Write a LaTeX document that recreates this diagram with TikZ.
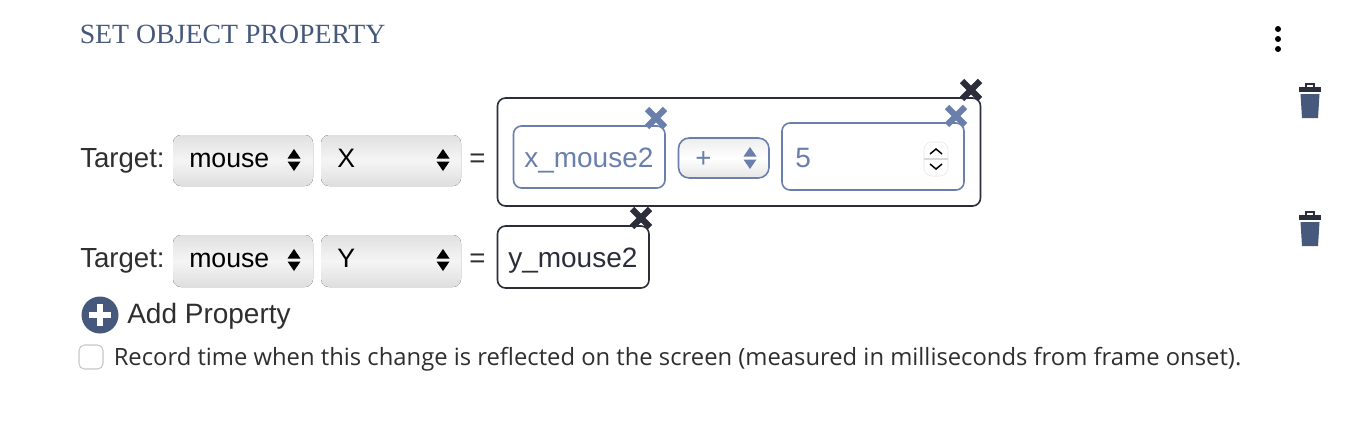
\documentclass[tikz,border=0pt]{standalone}
\usepackage{fontspec}
\setmainfont{Liberation Sans}
\newfontfamily\headfont{Liberation Serif}
\newfontfamily\notefont{Open Sans}
\usetikzlibrary{positioning}
\definecolor{slateblue}{HTML}{46597C}
\definecolor{darkink}{HTML}{2B2E3A}
\definecolor{fieldblue}{HTML}{6A7FAB}
\definecolor{labelgrey}{HTML}{2E2E2E}
\tikzset{
    lbl/.style={anchor=base west, inner sep=0pt, text=labelgrey, font=\fontsize{20.7}{24}\selectfont},
    seltext/.style={anchor=base west, inner sep=0pt, text=black, font=\fontsize{20}{24}\selectfont},
    selbox/.style={rounded corners=6pt, top color=black!12, bottom color=black!13, middle color=black!4},
    frame/.style={draw=darkink, line width=1.2pt, rounded corners=6pt, fill=white},
    subframe/.style={draw=fieldblue, line width=1.2pt, rounded corners=6pt, fill=white},
    cross/.pic={
        \draw[pic actions, line width=4.6pt] (-9,-9) -- (9,9);
        \draw[pic actions, line width=4.6pt] (-9,9) -- (9,-9);
    },
    updown/.pic={
        \fill[pic actions] (-6.5,-1.5) -- (6.5,-1.5) -- (0,-11) -- cycle;
        \fill[pic actions] (-6.5,1.5) -- (6.5,1.5) -- (0,11) -- cycle;
    },
    bin/.pic={
        \fill[darkink] (-11,-2) rectangle (11,3);
        \draw[darkink, line width=1pt] (-4,-2) -- (-4,-5) -- (4,-5) -- (4,-2);
        \fill[slateblue] (-9.5,5) -- (9.5,5) -- (8,29) -- (-8,29) -- cycle;
    }
}
\begin{document}
\begin{tikzpicture}[x=0.75pt, y=-0.75pt]
    \useasboundingbox (0,0) rectangle (1352,422);

    % Heading and menu
    \node[anchor=base west, inner sep=0pt, text=slateblue, font=\headfont\fontsize{20.85}{24}\selectfont] (heading) at (79.5,43) {SET OBJECT PROPERTY};
    \foreach \y in {29,39,49}
        \fill[black] (1278,\y) circle (3);

    % First row
    \node[lbl] (targetone) at (80,167) {Target:};
    \fill[selbox] (173,135) rectangle (313,186);
    \node[seltext] (mouseone) at (189,167) {mouse};
    \pic[black] at (294,160) {updown};
    \fill[selbox] (321,135) rectangle (461,186);
    \node[seltext] (axisx) at (337,167) {X};
    \pic[black] at (443,160) {updown};
    \node[lbl] (eqone) at (469,167) {=};

    % Expression box
    \draw[frame] (497.5,98) rectangle (980.5,206);
    \draw[subframe] (513.5,126) rectangle (665,188);
    \node[lbl, text=fieldblue, font=\fontsize{21}{24}\selectfont] (xmouse) at (524,167) {x\_mouse2};
    \draw[subframe, rounded corners=8pt, top color=black!7, bottom color=black!10, middle color=white] (678.5,138) rectangle (769,178);
    \node[lbl, text=fieldblue] (plus) at (695,167) {+};
    \pic[fieldblue] at (750,158) {updown};
    \draw[subframe] (782,123) rectangle (964,190);
    \node[lbl, text=fieldblue, font=\fontsize{21}{24}\selectfont] (five) at (795,167) {5};

    % Spinner
    \draw[black!10, fill=white, rounded corners=6pt] (924,142) rectangle (948,176);
    \draw[black!15, line width=1pt] (924,159) -- (948,159);
    \draw[black, line width=1.1pt] (930,154) -- (936,149) -- (942,154);
    \draw[black, line width=1.1pt] (930,164) -- (936,169) -- (942,164);

    % Second row
    \node[lbl] (targettwo) at (80,267) {Target:};
    \fill[selbox] (173,235) rectangle (313,287);
    \node[seltext] (mousetwo) at (189,267) {mouse};
    \pic[black] at (294,260) {updown};
    \fill[selbox] (321,235) rectangle (461,287);
    \node[seltext] (axisy) at (337,267) {Y};
    \pic[black] at (443,260) {updown};
    \node[lbl] (eqtwo) at (469,267) {=};
    \draw[frame] (497.5,226) rectangle (649,288);
    \node[lbl, text=darkink, font=\fontsize{21}{24}\selectfont] (ymouse) at (508,267) {y\_mouse2};

    % Delete marks
    \pic[darkink] at (971,90) {cross};
    \pic[fieldblue] at (656,118) {cross};
    \pic[fieldblue] at (956,116) {cross};
    \pic[darkink] at (641,218) {cross};
    \pic at (1310,89) {bin};
    \pic at (1310,217) {bin};

    % Add property
    \fill[slateblue] (100,315) circle (18.5);
    \draw[white, line width=4.5pt] (89,315) -- (111,315);
    \draw[white, line width=4.5pt] (100,304) -- (100,326);
    \node[lbl, font=\fontsize{21}{24}\selectfont] (addprop) at (127,323.5) {Add Property};

    % Record option
    \draw[black!22, line width=0.8pt, fill=white, rounded corners=4pt] (79,345) rectangle (103,369);
    \node[lbl, font=\notefont\fontsize{17.85}{20}\selectfont] (record) at (113.5,365.5) {Record time when this change is reflected on the screen (measured in milliseconds from frame onset).};
\end{tikzpicture}
\end{document}
